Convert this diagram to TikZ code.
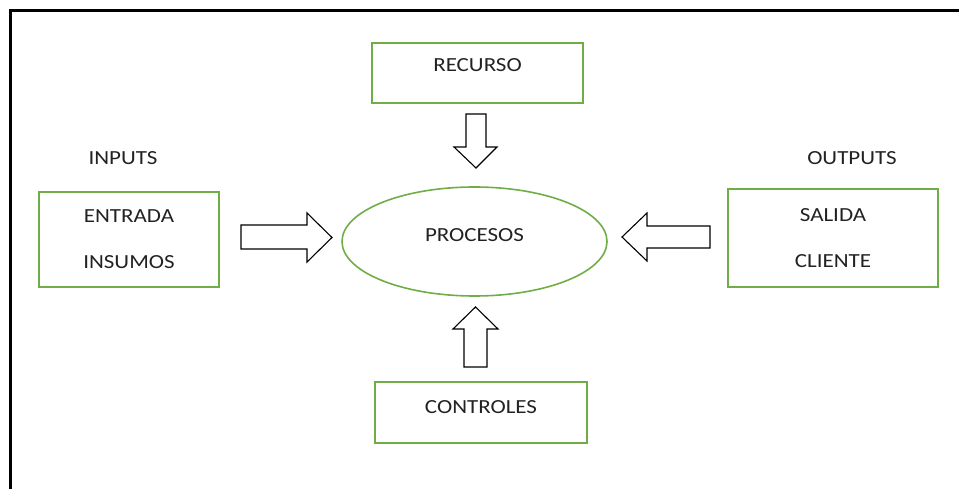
\documentclass[tikz,border=0pt]{standalone}
\usepackage{fontspec}
\setmainfont{Carlito}[FakeStretch=1.15]
\usetikzlibrary{shapes.geometric}
\definecolor{boxgreen}{HTML}{70AD47}
\definecolor{txt}{HTML}{222222}
\tikzset{
  greenbox/.style={draw=boxgreen, line width=1.6pt, inner sep=0pt, text=txt, align=center},
  raisetext/.style={text height=13pt, text depth=2*#1},
  label/.style={text=txt, inner sep=0pt},
  blockarrow/.style={draw=black, line width=1.1pt, fill=white, line join=miter},
}
\begin{document}
\begin{tikzpicture}[x=1pt, y=-1pt, font=\fontsize{20}{46}\selectfont]
\useasboundingbox (0,0) rectangle (959,489);
% frame
\draw[line width=2.2pt] (959,10.5) -- (10.5,10.5) -- (10.5,489);
% labels
\node[label] (inputs) at (123,158) {INPUTS};
\node[label] (outputs) at (852,158) {OUTPUTS};
% boxes
\node[greenbox, minimum width=180pt, minimum height=95pt] (entrada) at (129,239.5) {ENTRADA\\INSUMOS};
\node[greenbox, minimum width=210pt, minimum height=98pt] (salida) at (833,238) {SALIDA\\CLIENTE};
\node[greenbox, minimum width=211pt, minimum height=60pt, raisetext=8pt] (recurso) at (477.5,73) {RECURSO};
\node[greenbox, minimum width=212pt, minimum height=61pt, raisetext=5.5pt] (controles) at (481,412.5) {CONTROLES};
\node[greenbox, ellipse, minimum width=265pt, minimum height=109pt, raisetext=6.5pt] (procesos) at (474.5,241.5) {PROCESOS};
% block arrows
\draw[blockarrow] (241,225) -- (307,225) -- (307,213) -- (332,237.5) -- (307,262) -- (307,249) -- (241,249) -- cycle;
\draw[blockarrow] (710,226) -- (647,226) -- (647,213) -- (622,237) -- (647,261) -- (647,248) -- (710,248) -- cycle;
\draw[blockarrow] (466,114) -- (486,114) -- (486,147) -- (497,147) -- (476,168) -- (454,147) -- (466,147) -- cycle;
\draw[blockarrow] (464,367) -- (487,367) -- (487,329) -- (498,329) -- (475.5,307) -- (453,329) -- (464,329) -- cycle;
\end{tikzpicture}
\end{document}
